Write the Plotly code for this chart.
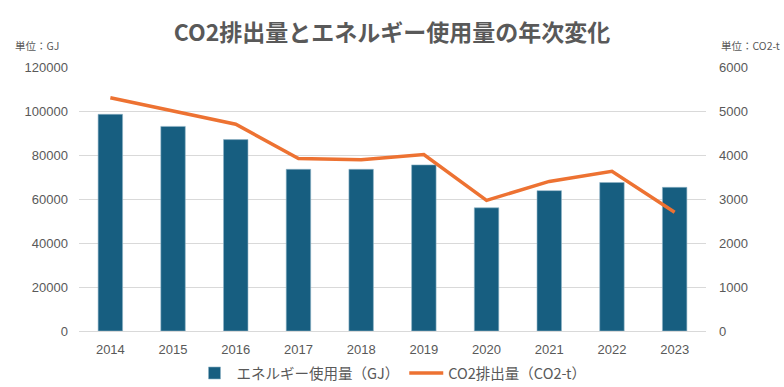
import plotly.graph_objects as go

years = ["2014", "2015", "2016", "2017", "2018", "2019", "2020", "2021", "2022", "2023"]
energy_gj = [98500, 93000, 87000, 73500, 73500, 75500, 56000, 63800, 67500, 65300]
co2_t = [5300, 5000, 4700, 3920, 3890, 4010, 2970, 3400, 3630, 2700]

left_ticks = [0, 20000, 40000, 60000, 80000, 100000, 120000]
right_ticks = [0, 1000, 2000, 3000, 4000, 5000, 6000]

grey = "#595959"
font_main = "Noto Sans CJK JP"

fig = go.Figure()
fig.add_trace(go.Bar(
    x=years, y=energy_gj, name="エネルギー使用量（GJ）",
    marker=dict(color="#175e80", line=dict(color="#8fb3c6", width=0.6)),
    width=0.39, yaxis="y",
))
fig.add_trace(go.Scatter(
    x=years, y=co2_t, name="CO2排出量（CO2-t）", mode="lines",
    line=dict(color="#ed7232", width=3.5), yaxis="y2",
))

fig.update_layout(
    width=784, height=387,
    margin=dict(l=79, r=78, t=67, b=56, autoexpand=False),
    paper_bgcolor="white", plot_bgcolor="white",
    font=dict(family="Liberation Sans", color=grey, size=13),
    title=dict(text="<b>CO2排出量とエネルギー使用量の年次変化</b>",
               x=0.5, xanchor="center", y=0.915, yanchor="middle",
               font=dict(family=font_main, size=23, color=grey)),
    xaxis=dict(type="category", showgrid=False, showline=True, linecolor="#d9d9d9",
               ticks="", tickfont=dict(size=13, color=grey), ticklabelstandoff=6),
    yaxis=dict(range=[0, 120000], tickvals=left_ticks, tickformat="d", showgrid=True,
               gridcolor="#d9d9d9", gridwidth=1, zeroline=False, ticks="",
               tickfont=dict(size=13, color=grey), ticklabelstandoff=10),
    yaxis2=dict(range=[0, 6000], tickvals=right_ticks, tickformat="d", overlaying="y",
                side="right", showgrid=False, zeroline=False, ticks="",
                tickfont=dict(size=13, color=grey), ticklabelstandoff=12),
    legend=dict(orientation="h", x=0.5, xanchor="center", xref="container",
                y=0.036, yanchor="middle", yref="container",
                font=dict(family=font_main, size=14.5, color=grey),
                traceorder="normal", itemwidth=34),
    bargap=0.61,
    annotations=[
        dict(text="単位：GJ", xref="paper", yref="paper", x=-0.105, y=1.083,
             xanchor="left", yanchor="middle", showarrow=False,
             font=dict(family=font_main, size=10.5, color=grey)),
        dict(text="単位：CO2-t", xref="paper", yref="paper", x=1.121, y=1.083,
             xanchor="right", yanchor="middle", showarrow=False,
             font=dict(family=font_main, size=10.5, color=grey)),
    ],
)

fig.write_html("out.html", config={"displayModeBar": False},
               post_script="document.body.style.margin='0';")
